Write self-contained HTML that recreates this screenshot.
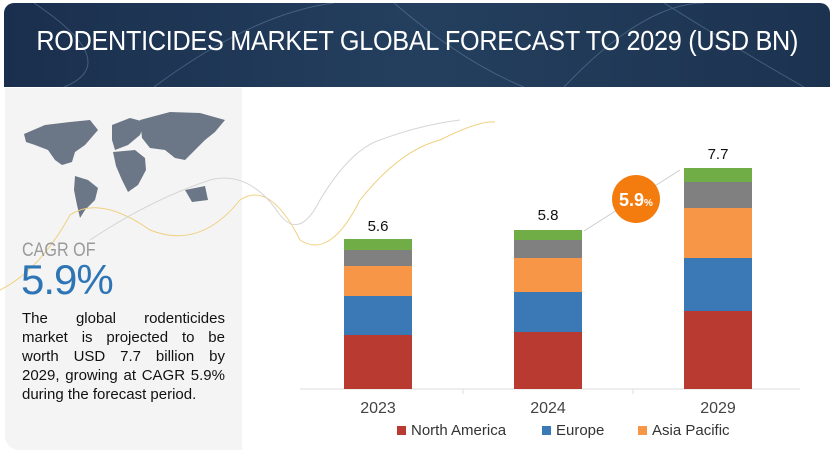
<!DOCTYPE html>
<html><head><meta charset="utf-8"><style>
body{margin:0;width:834px;height:458px;background:#fff;position:relative;overflow:hidden;font-family:"Liberation Sans",sans-serif}
.hdr{position:absolute;left:4px;top:3px;width:826px;height:84px;border-radius:10px 10px 0 0;background:linear-gradient(90deg,#1a2f4d,#243f5e 50%,#1c3350);overflow:hidden}
.title{position:absolute;left:-200px;width:1226px;top:22px;text-align:center;color:#fff;font-size:28px;white-space:nowrap}
.title span{display:inline-block;transform:scaleX(0.9);transform-origin:center;letter-spacing:-0.3px}
.left{position:absolute;left:5px;top:88px;width:237px;height:362px;background:#f4f4f4;border-radius:0 0 0 14px}
.cagr{position:absolute;left:22px;top:240px;color:#9a9a9a;font-size:19px;white-space:nowrap}
.cagr span{display:inline-block;transform:scaleX(0.85);transform-origin:left}
.big{position:absolute;left:21px;top:256px;color:#2e75b6;font-size:42px;letter-spacing:-1px}
.txt{position:absolute;left:22px;top:309px;width:203px;font-size:15px;line-height:19px;color:#111}
.txt div{white-space:nowrap;display:flex;justify-content:space-between}
.txt div.l{display:block}
.bar{position:absolute;width:68px}
.lbl{position:absolute;font-size:15px;color:#111;width:68px;text-align:center}
.yr{position:absolute;font-size:16px;color:#444;width:68px;text-align:center;top:400px}
.leg{position:absolute;top:422px;font-size:15px;color:#333}
.leg i{display:inline-block;width:9px;height:9px;margin-right:5px}
</style></head><body>
<div class="hdr">
<svg width="826" height="84" style="position:absolute;left:0;top:0">
<g fill="none" stroke="#6a88a8" stroke-width="1" opacity=".5">
<path d="M30 0 Q120 60 60 84"/><path d="M150 84 Q250 10 330 0"/><path d="M390 0 Q460 60 520 84"/><path d="M560 84 Q640 0 700 0"/><path d="M660 0 Q740 50 800 84"/></g>
</svg>
<div class="title"><span>RODENTICIDES MARKET GLOBAL FORECAST TO 2029 (USD BN)</span></div>
</div>
<div class="left"></div>
<svg width="834" height="458" style="position:absolute;left:0;top:0">
<g fill="#6b7687">
<path d="M24 134 L45 125 L70 122 L90 120 L98 130 L85 145 L75 152 L72 162 L62 165 L55 160 L48 150 L35 145 L26 142Z"/>
<path d="M75 176 L88 180 L98 188 L95 200 L85 210 L80 218 L77 205 L74 190Z"/>
<path d="M112 125 L130 118 L145 122 L140 135 L128 145 L115 150 L112 140Z"/>
<path d="M113 152 L135 150 L145 158 L146 170 L138 185 L128 192 L122 180 L116 166Z"/>
<path d="M140 120 L170 112 L200 113 L225 120 L215 132 L205 140 L195 150 L185 160 L175 158 L165 150 L150 148 L142 138Z"/>
<path d="M185 190 L205 186 L208 200 L192 202Z"/>
</g>
<path d="M0 290 Q40 270 70 215 Q100 195 150 230 Q200 250 240 200 Q270 180 300 240 Q330 260 360 200 Q400 150 440 140 Q480 120 495 122" fill="none" stroke="#f0d080" stroke-width="1"/>
<path d="M90 240 Q150 200 210 180 Q250 170 280 215 Q300 240 320 200 Q350 150 380 140 Q420 125 460 120" fill="none" stroke="#d5d5d5" stroke-width="1"/>
<line x1="300" y1="389" x2="800" y2="389" stroke="#ddd"/>
<line x1="463" y1="389" x2="463" y2="394" stroke="#ddd"/><line x1="633" y1="389" x2="633" y2="394" stroke="#ddd"/>
<line x1="584" y1="231" x2="680" y2="170" stroke="#ccc"/>
<circle cx="636" cy="199" r="24" fill="#f47c0f"/>
<text x="619" y="206" fill="#fff" font-size="18" font-weight="bold" font-family="Liberation Sans">5.9<tspan font-size="10">%</tspan></text>
</svg>
<div class="cagr"><span>CAGR OF</span></div>
<div class="big">5.9%</div>
<div class="txt">
<div><span>The</span><span>global</span><span>rodenticides</span></div>
<div><span>market</span><span>is</span><span>projected</span><span>to</span><span>be</span></div>
<div><span>worth</span><span>USD</span><span>7.7</span><span>billion</span><span>by</span></div>
<div><span>2029,</span><span>growing</span><span>at</span><span>CAGR</span><span>5.9%</span></div>
<div class="l">during the forecast period.</div>
</div>

<div class="bar" style="left:344px;top:239px;height:11px;background:#70ad47"></div>
<div class="bar" style="left:344px;top:250px;height:16px;background:#808080"></div>
<div class="bar" style="left:344px;top:266px;height:30px;background:#f79646"></div>
<div class="bar" style="left:344px;top:296px;height:39px;background:#3a78b6"></div>
<div class="bar" style="left:344px;top:335px;height:54px;background:#b83a31"></div>
<div class="lbl" style="left:344px;top:218px">5.6</div>

<div class="bar" style="left:514px;top:230px;height:10px;background:#70ad47"></div>
<div class="bar" style="left:514px;top:240px;height:18px;background:#808080"></div>
<div class="bar" style="left:514px;top:258px;height:34px;background:#f79646"></div>
<div class="bar" style="left:514px;top:292px;height:40px;background:#3a78b6"></div>
<div class="bar" style="left:514px;top:332px;height:57px;background:#b83a31"></div>
<div class="lbl" style="left:514px;top:207px">5.8</div>

<div class="bar" style="left:684px;top:168px;height:14px;background:#70ad47"></div>
<div class="bar" style="left:684px;top:182px;height:26px;background:#808080"></div>
<div class="bar" style="left:684px;top:208px;height:50px;background:#f79646"></div>
<div class="bar" style="left:684px;top:258px;height:53px;background:#3a78b6"></div>
<div class="bar" style="left:684px;top:311px;height:78px;background:#b83a31"></div>
<div class="lbl" style="left:684px;top:146px">7.7</div>

<div class="yr" style="left:344px">2023</div>
<div class="yr" style="left:514px">2024</div>
<div class="yr" style="left:684px">2029</div>
<div class="leg" style="left:397px"><i style="background:#b83a31"></i>North America</div>
<div class="leg" style="left:542px"><i style="background:#3a78b6"></i>Europe</div>
<div class="leg" style="left:638px"><i style="background:#f79646"></i>Asia Pacific</div>
</body></html>
